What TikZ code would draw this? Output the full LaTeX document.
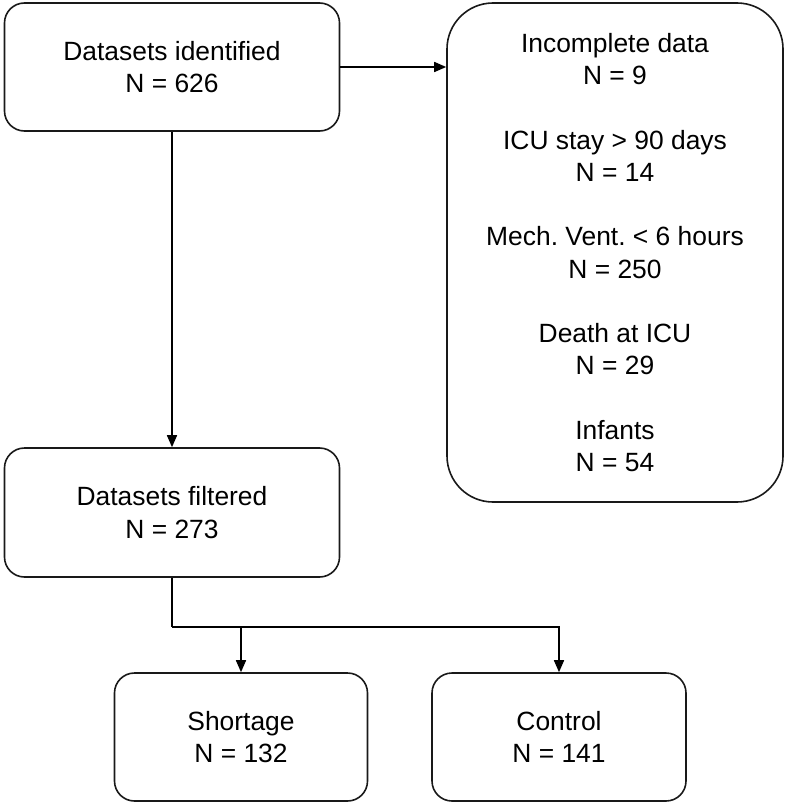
\documentclass[tikz,border=0pt]{standalone}
\usepackage{fontspec}
\setmainfont{Liberation Sans}
\usetikzlibrary{arrows.meta}
\frenchspacing
\begin{document}
\begin{tikzpicture}[x=1pt,y=1pt,
  box/.style={draw=black!90, line width=1.6pt, rounded corners=20pt, align=center,
    font=\fontsize{26.4}{32.2}\selectfont\frenchspacing, inner sep=0pt},
  bigbox/.style={box, rounded corners=46pt},
  conn/.style={draw=black, line width=1.6pt},
  arr/.style={conn, -{Triangle[length=12pt,width=10pt]}}]
\useasboundingbox (0,0) rectangle (787,-805);
\node[box, minimum width=335pt, minimum height=128pt] (ident) at (172,-67)
  {Datasets identified\\N = 626};
\node[bigbox, minimum width=336pt, minimum height=499pt] (excl) at (615,-252.5)
  {Incomplete data\\N = 9\\[32.2pt]ICU stay > 90 days\\N = 14\\[32.2pt]Mech. Vent. < 6 hours\\N = 250\\[32.2pt]Death at ICU\\N = 29\\[32.2pt]Infants\\N = 54};
\node[box, minimum width=335pt, minimum height=129pt] (filt) at (172,-512.5)
  {Datasets filtered\\N = 273};
\node[box, minimum width=253pt, minimum height=128pt] (short) at (241,-737)
  {Shortage\\N = 132};
\node[box, minimum width=254pt, minimum height=128pt] (ctrl) at (559,-737)
  {Control\\N = 141};
\coordinate (j) at (172,-627);
\draw[arr] (ident.east) -- (ident.east -| excl.west);
\draw[arr] (ident.south) -- (filt.north);
\draw[conn] (filt.south) -- (j);
\draw[arr] (j) -- (ctrl.north |- j) -- (ctrl.north);
\draw[arr] (short.north |- j) -- (short.north);
\end{tikzpicture}
\end{document}
